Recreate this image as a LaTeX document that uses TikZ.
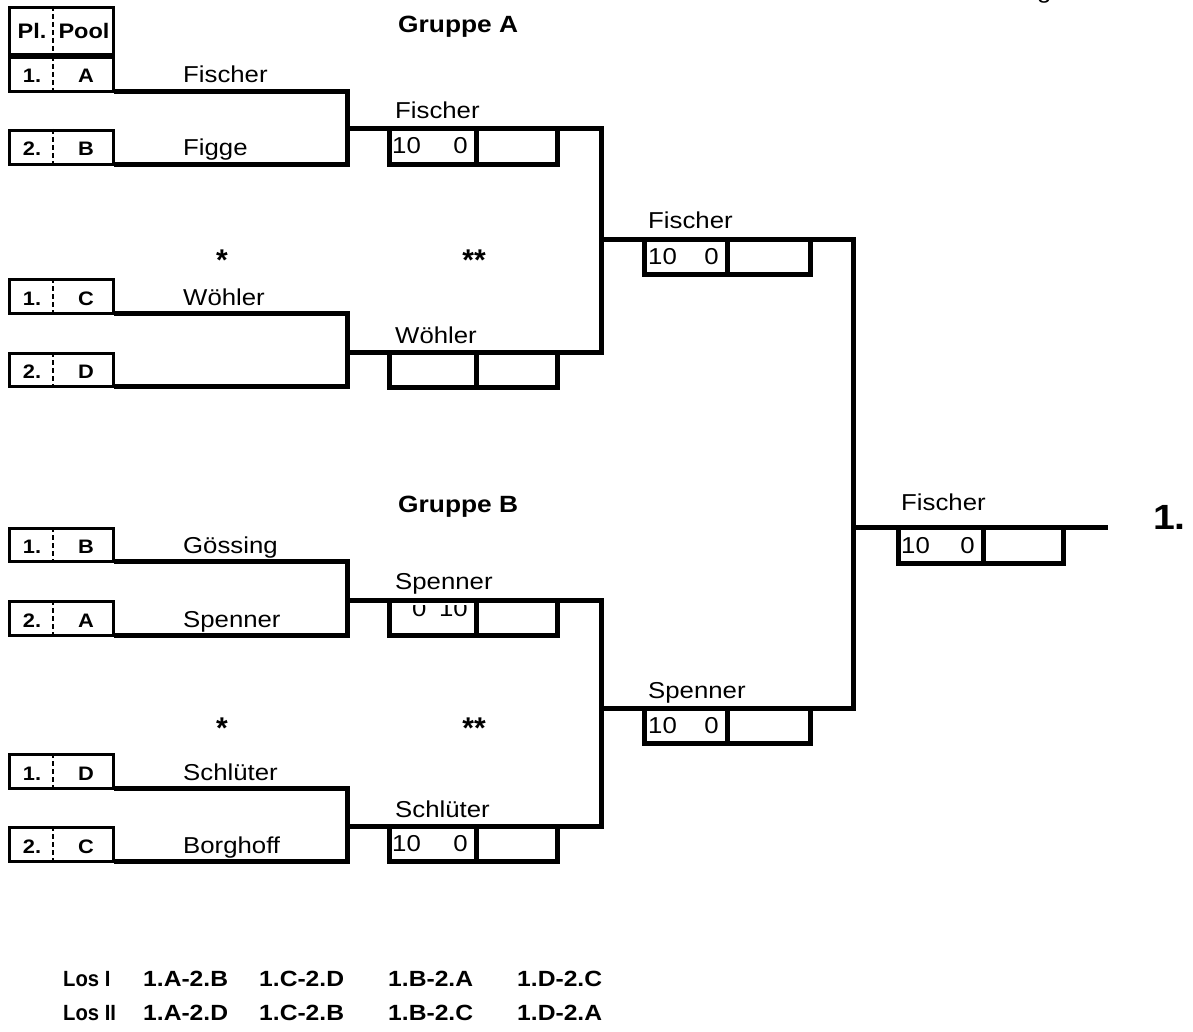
\documentclass[tikz,border=0pt]{standalone}
\usepackage{fontspec}
\setmainfont{Liberation Sans}
\newcommand\sx[1]{\scalebox{1.12}[1]{#1}}
\newcommand\sn[1]{\scalebox{0.92}[1]{#1}}
\tikzset{
  br/.style={line width=5pt, line join=miter},
  plbox/.style={draw, line width=3pt, rectangle, inner sep=0pt, outer sep=0pt, minimum width=104pt},
  plsep/.style={line width=2.5pt, dash pattern=on 5pt off 3pt},
  sboxst/.style={draw, line width=5pt, rectangle, inner sep=0pt, outer sep=0pt},
  sdiv/.style={line width=5pt},
  nm/.style={inner sep=0pt, anchor=base west, font=\fontsize{23}{26}\selectfont},
  dg/.style={inner sep=0pt, font=\fontsize{23}{26}\selectfont},
  lbl/.style={inner sep=0pt, anchor=base, font=\bfseries\fontsize{19.5}{22}\selectfont},
  hd/.style={inner sep=0pt, anchor=base, font=\bfseries\fontsize{21}{23}\selectfont},
  grp/.style={inner sep=0pt, anchor=base west, font=\bfseries\fontsize{23.5}{26}\selectfont},
  star/.style={inner sep=0pt, anchor=base, font=\bfseries\fontsize{30}{32}\selectfont},
  tab/.style={inner sep=0pt, anchor=base west, font=\bfseries\fontsize{22}{24}\selectfont},
}
% Pl/Pool row: name, top, bottom, place, pool
\newcommand\plrow[5]{%
  \node[plbox, minimum height={#3-#2-3}] (#1) at (61.5,{(#2+#3)/2}) {};
  \draw[plsep] (53,#2) -- (53,#3);
  \node[lbl] (#1p) at (32,#3-10) {\sx{#4}};
  \node[lbl] (#1q) at (86,#3-10) {\sx{#5}};
}
% score box: name, left, top(line centre), right, bottom, divider
\newcommand\scorebox[6]{%
  \node[sboxst, minimum width={#4-#2-5}, minimum height={#5-#3-2.5}] (#1) at ({(#2+#4)/2},{(#3-2.5+#5)/2}) {};
  \draw[sdiv] (#6,#3) -- (#6,#5-2.5);
}
\begin{document}
\begin{tikzpicture}[x=1pt,y=-1pt]
\useasboundingbox (0,0) rectangle (1193,1032);
\clip (0,0) rectangle (1193,1032);
\fill[white] (0,0) rectangle (1193,1032);

% cut-off text at the top right
\node[nm] (topg) at (1037,-1.5) {\sx{g}};

% header
\node[plbox, minimum height=47] (hdr) at (61.5,31) {};
\draw[plsep] (53,6) -- (53,56);
\node[hd] (hdrpl) at (32,39) {\sx{Pl.}};
\node[hd] (hdrpool) at (84,39) {\sx{Pool}};

\node[grp] (gA) at (398,33) {\sx{Gruppe A}};
\node[grp] (gB) at (398,512) {\sx{Gruppe B}};

% Pl/Pool boxes
\plrow{A1}{56}{93}{1.}{A}
\plrow{A2}{129}{166}{2.}{B}
\plrow{A3}{278}{315}{1.}{C}
\plrow{A4}{352}{388}{2.}{D}
\plrow{B1}{527}{563}{1.}{B}
\plrow{B2}{600}{637}{2.}{A}
\plrow{B3}{753}{790}{1.}{D}
\plrow{B4}{826}{863}{2.}{C}

% stars
\node[star] (sA1) at (222,270) {*};
\node[star] (sA2) at (474,270) {**};
\node[star] (sB1) at (222,738) {*};
\node[star] (sB2) at (474,738) {**};

% score texts (drawn first)
\node[dg, anchor=base west] (sa1a) at (392,154) {\sx{10}};
\node[dg, anchor=base east] (sa1b) at (468,154) {\sx{0}};
\begin{scope}
  \clip (387,605) rectangle (476,640);
  \node[dg, anchor=base west] (sb1a) at (412,616) {\sx{0}};
  \node[dg, anchor=base east] (sb1b) at (468,616) {\sx{10}};
\end{scope}
\node[dg, anchor=base west] (sb2a) at (392,851) {\sx{10}};
\node[dg, anchor=base east] (sb2b) at (468,851) {\sx{0}};
\node[dg, anchor=base west] (rA1) at (648,265) {\sx{10}};
\node[dg, anchor=base east] (rA2) at (719,265) {\sx{0}};
\node[dg, anchor=base west] (rB1) at (648,733) {\sx{10}};
\node[dg, anchor=base east] (rB2) at (719,733) {\sx{0}};
\node[dg, anchor=base west] (fi1) at (901,553) {\sx{10}};
\node[dg, anchor=base east] (fi2) at (975,553) {\sx{0}};

% round 1 names
\node[nm] (n1) at (183,83) {\sx{Fischer}};
\node[nm] (n2) at (183,156) {\sx{Figge}};
\node[nm] (n3) at (183,305) {\sx{Wöhler}};
\node[nm] (n5) at (183,553) {\sx{Gössing}};
\node[nm] (n6) at (183,627) {\sx{Spenner}};
\node[nm] (n7) at (183,780) {\sx{Schlüter}};
\node[nm] (n8) at (183,853) {\sx{Borghoff}};

% round 2 names
\node[nm] (m1) at (395,119) {\sx{Fischer}};
\node[nm] (m2) at (395,343) {\sx{Wöhler}};
\node[nm] (m3) at (395,589) {\sx{Spenner}};
\node[nm] (m4) at (395,817) {\sx{Schlüter}};

% round 3 names
\node[nm] (q1) at (648,229) {\sx{Fischer}};
\node[nm] (q2) at (648,698) {\sx{Spenner}};

% final name
\node[nm] (fin) at (901,510) {\sx{Fischer}};
\node[inner sep=0pt, anchor=base east, font=\bfseries\fontsize{35}{37}\selectfont] (place1) at (1186,529) {\sx{1.}};

% bracket coordinates
\coordinate (A1r) at (114,91.5);
\coordinate (A2r) at (114,164.5);
\coordinate (A3r) at (114,313.5);
\coordinate (A4r) at (114,386.5);
\coordinate (B1r) at (114,561.5);
\coordinate (B2r) at (114,635.5);
\coordinate (B3r) at (114,788.5);
\coordinate (B4r) at (114,861.5);
\coordinate (PA1) at (347,129);
\coordinate (PA2) at (347,352);
\coordinate (PB1) at (347,600);
\coordinate (PB2) at (347,826);
\coordinate (QA) at (601,240);
\coordinate (QB) at (601,708);
\coordinate (FF) at (853,527);
\coordinate (FE) at (1108,527);

% round 1 brackets
\draw[br] (A1r) -| (PA1) |- (A2r);
\draw[br] (A3r) -| (PA2) |- (A4r);
\draw[br] (B1r) -| (PB1) |- (B2r);
\draw[br] (B3r) -| (PB2) |- (B4r);
% round 2 brackets
\draw[br] (PA1) -| (QA) |- (PA2);
\draw[br] (PB1) -| (QB) |- (PB2);
% round 3 bracket and final line
\draw[br] (QA) -| (FF) |- (QB);
\draw[br] (FF) -- (FE);

% score boxes
\scorebox{SA1}{387}{129}{560}{167}{476}
\scorebox{SA2}{387}{352}{560}{390}{476}
\scorebox{SB1}{387}{600}{560}{638}{476}
\scorebox{SB2}{387}{826}{560}{864}{476}
\scorebox{TA}{642}{240}{813}{277}{727}
\scorebox{TB}{642}{708}{813}{746}{727}
\scorebox{FB}{896}{527}{1066}{566}{983}

% draw table
\node[tab] (l1) at (63,986) {\sn{Los I}};
\node[tab] (l1a) at (143,986) {\sx{1.A-2.B}};
\node[tab] (l1b) at (259,986) {\sx{1.C-2.D}};
\node[tab] (l1c) at (388,986) {\sx{1.B-2.A}};
\node[tab] (l1d) at (517,986) {\sx{1.D-2.C}};
\node[tab] (l2) at (63,1020) {\sn{Los II}};
\node[tab] (l2a) at (143,1020) {\sx{1.A-2.D}};
\node[tab] (l2b) at (259,1020) {\sx{1.C-2.B}};
\node[tab] (l2c) at (388,1020) {\sx{1.B-2.C}};
\node[tab] (l2d) at (517,1020) {\sx{1.D-2.A}};
\end{tikzpicture}
\end{document}
